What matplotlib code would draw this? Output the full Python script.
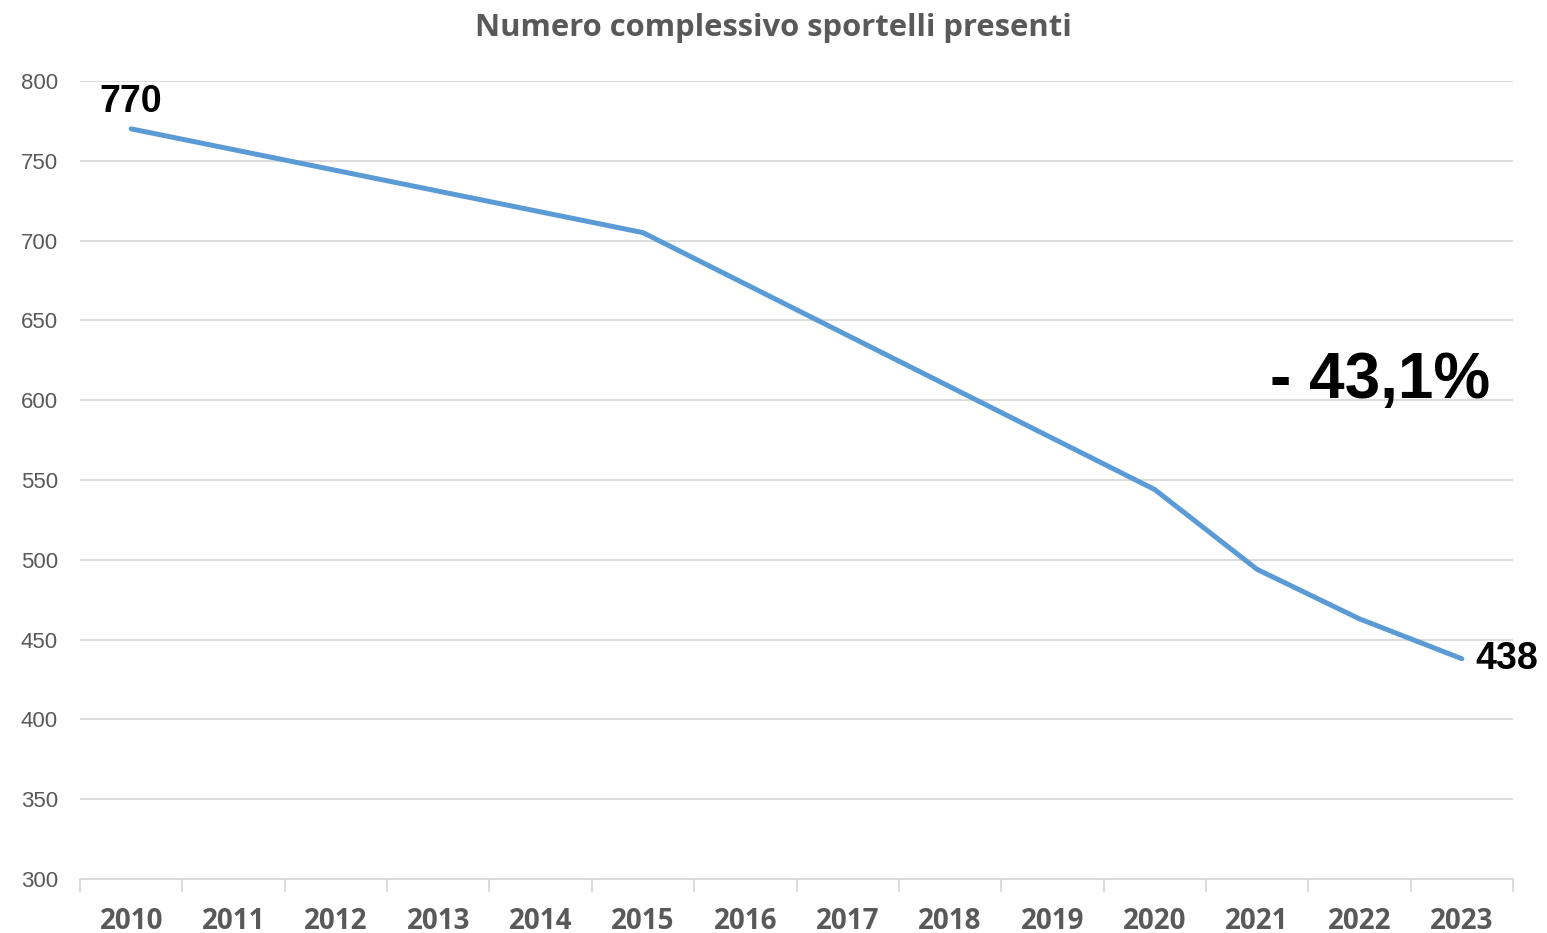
import matplotlib.pyplot as plt
import numpy as np

years = ['2010', '2011', '2012', '2013', '2014', '2015', '2016',
         '2017', '2018', '2019', '2020', '2021', '2022', '2023']
point_years = ['2010', '2015', '2020', '2021', '2022', '2023']
sportelli = [770, 705, 544, 494, 463, 438]
title = 'Numero complessivo sportelli presenti'
change_label = '- 43,1%'

fig = plt.figure(figsize=(15.47, 9.33), dpi=100)
ax = fig.add_axes([80 / 1547, 54 / 933, 1433 / 1547, 798 / 933])

xs = [years.index(y) for y in point_years]
ax.plot(xs, sportelli, color='#5B9BD5', lw=3.6, solid_capstyle='round',
        solid_joinstyle='round', zorder=3)

ax.set_xlim(-0.5, len(years) - 0.5)
ax.set_ylim(300, 800)
ax.set_yticks(np.arange(300, 801, 50))
ax.grid(axis='y', color='#D9D9D9', lw=1.3)
ax.set_axisbelow(True)

ax.set_xticks(range(len(years)))
ax.set_xticklabels(years, fontfamily='Open Sans', fontweight='bold',
                   fontsize=20, color='#595959')
ax.set_xticks(np.arange(-0.5, len(years), 1), minor=True)
ax.tick_params(axis='x', which='major', length=0, pad=20)
ax.tick_params(axis='x', which='minor', length=9, width=1.3, color='#D9D9D9')
ax.tick_params(axis='y', length=0, pad=16, labelsize=16, labelcolor='#595959')
for lab in ax.get_yticklabels():
    lab.set_fontfamily('Liberation Sans')

for s in ['left', 'right', 'top']:
    ax.spines[s].set_visible(False)
ax.spines['bottom'].set_color('#D9D9D9')
ax.spines['bottom'].set_linewidth(1.3)

# title centred on the whole figure, like the original
fig.text(0.5, 1 - 28 / 933, title, ha='center', va='center',
         fontfamily='Open Sans', fontweight='bold', fontsize=22.3,
         color='#595959')

ax.annotate(str(sportelli[0]), (xs[0], sportelli[0]), xytext=(0, 12),
            textcoords='offset points', ha='center', va='baseline',
            fontfamily='Liberation Sans', fontweight='bold', fontsize=27)
ax.annotate(str(sportelli[-1]), (xs[-1], sportelli[-1]), xytext=(10, 0),
            textcoords='offset points', ha='left', va='center',
            fontfamily='Liberation Sans', fontweight='bold', fontsize=27)
ax.text(12.2, 612, change_label, ha='center', va='center',
        fontfamily='Liberation Sans', fontweight='bold', fontsize=46)

fig.savefig('out.png', dpi=100)
